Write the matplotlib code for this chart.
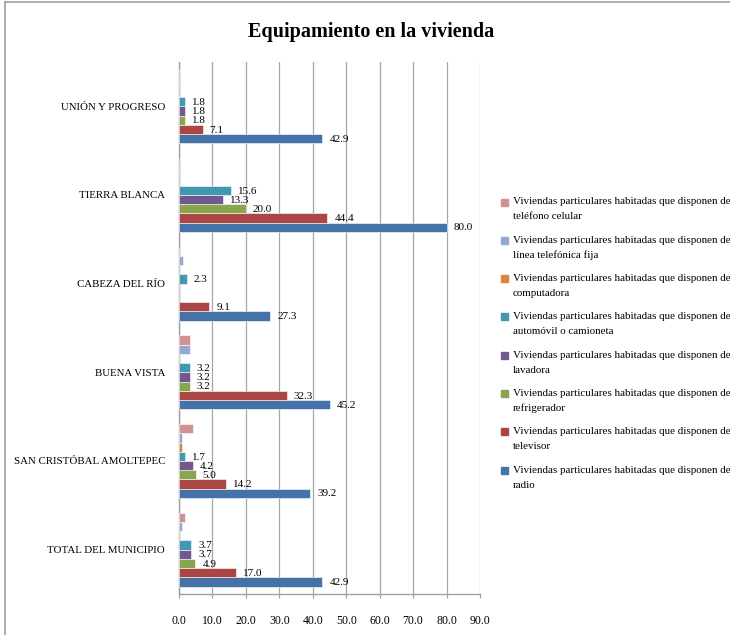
import numpy as np
import matplotlib
matplotlib.use("Agg")
import matplotlib.pyplot as plt
from matplotlib.lines import Line2D
from matplotlib.patches import Rectangle

plt.rcParams['font.family'] = ['Liberation Serif', 'DejaVu Serif']

# Categories from top to bottom as shown in the chart
categories = ["UNIÓN Y PROGRESO", "TIERRA BLANCA", "CABEZA DEL RÍO",
              "BUENA VISTA", "SAN CRISTÓBAL AMOLTEPEC", "TOTAL DEL MUNICIPIO"]

# Percent of homes with each item
radio = [42.9, 80.0, 27.3, 45.2, 39.2, 42.9]
televisor = [7.1, 44.4, 9.1, 32.3, 14.2, 17.0]
refrigerador = [1.8, 20.0, 0.0, 3.2, 5.0, 4.9]
lavadora = [1.8, 13.3, 0.0, 3.2, 4.2, 3.7]
automovil = [1.8, 15.6, 2.3, 3.2, 1.7, 3.7]
computadora = [0.0, 0.0, 0.0, 0.0, 0.8, 0.3]
linea_fija = [0.0, 0.0, 1.2, 3.2, 0.8, 1.0]
celular = [0.0, 0.0, 0.0, 3.2, 4.1, 1.7]

prefix = "Viviendas particulares habitadas que disponen de"
series_names = ["radio", "televisor", "refrigerador", "lavadora",
                "automóvil o camioneta", "computadora",
                "línea telefónica fija", "teléfono celular"]
series_values = [radio, televisor, refrigerador, lavadora,
                 automovil, computadora, linea_fija, celular]
colors = ["#4572A7", "#AA4643", "#89A54E", "#71588F",
          "#4198AF", "#DB843D", "#93A9CF", "#D19392"]
# only the first five series carry data labels
labeled = [True, True, True, True, True, False, False, False]

x_ticks = np.arange(0, 100, 10)

fig = plt.figure(figsize=(7.3, 6.35), dpi=100)
W, H = 730.0, 635.0

# axes box in pixels: x 179..480, y 62..594
ax = fig.add_axes([179 / W, 1 - 594 / H, (480 - 179) / W, (594 - 62) / H])

n_cat = len(categories)
ypos = np.arange(n_cat)[::-1]
bar_h = 0.104

for i, (vals, col) in enumerate(zip(series_values, colors)):
    y = ypos + (i - 3.5) * bar_h
    bars = ax.barh(y, vals, height=bar_h, color=col, edgecolor="white",
                   linewidth=0.4, zorder=3)
    if labeled[i]:
        for b, v in zip(bars, vals):
            if v > 0:
                ax.annotate(f"{v:.1f}", (v, b.get_y() + bar_h / 2),
                            xytext=(5, -0.5), textcoords="offset points",
                            va="center", ha="left", fontsize=8, zorder=4)

ax.set_xlim(0, 90)
ax.set_ylim(-0.5, n_cat - 0.5)
ax.set_xticks(x_ticks)
ax.set_xticklabels([f"{t:.1f}" for t in x_ticks], fontsize=8.5)
ax.set_yticks(ypos)
ax.set_yticklabels(categories, fontsize=7.8)
ax.tick_params(axis="y", length=0, pad=10)
ax.tick_params(axis="x", length=3, color="#A0A0A0", pad=12)
ax.grid(axis="x", color="#A6A6A6", linewidth=0.9, zorder=0)
for side in ["top", "right"]:
    ax.spines[side].set_visible(False)
for side in ["left", "bottom"]:
    ax.spines[side].set_color("#A0A0A0")
    ax.spines[side].set_linewidth(1.0)

# title
fig.text(371 / W, 1 - 32 / H, "Equipamiento en la vivienda", ha="center",
         va="center", fontsize=14.5, fontweight="bold")

# legend, drawn Excel style with the swatch beside the first line
leg_top = 202
leg_step = 38.3
for k, i in enumerate(range(len(series_names) - 1, -1, -1)):
    yc = leg_top + k * leg_step
    fig.add_artist(Rectangle((501 / W, 1 - (yc + 3.5) / H), 7 / W, 7 / H,
                             transform=fig.transFigure, color=colors[i]))
    fig.text(513 / W, 1 - yc / H, prefix, ha="left", va="center", fontsize=7.95)
    fig.text(513 / W, 1 - (yc + 15) / H, series_names[i], ha="left",
             va="center", fontsize=7.95)

# chart frame (right and bottom edges fall outside the image)
fig.add_artist(Line2D([5 / W, 5 / W], [0, 1 - 2 / H], transform=fig.transFigure,
                      color="#A0A0A0", linewidth=1.2))
fig.add_artist(Line2D([5 / W, 1], [1 - 2 / H, 1 - 2 / H], transform=fig.transFigure,
                      color="#A0A0A0", linewidth=1.2))

fig.savefig("out.png", dpi=100)
